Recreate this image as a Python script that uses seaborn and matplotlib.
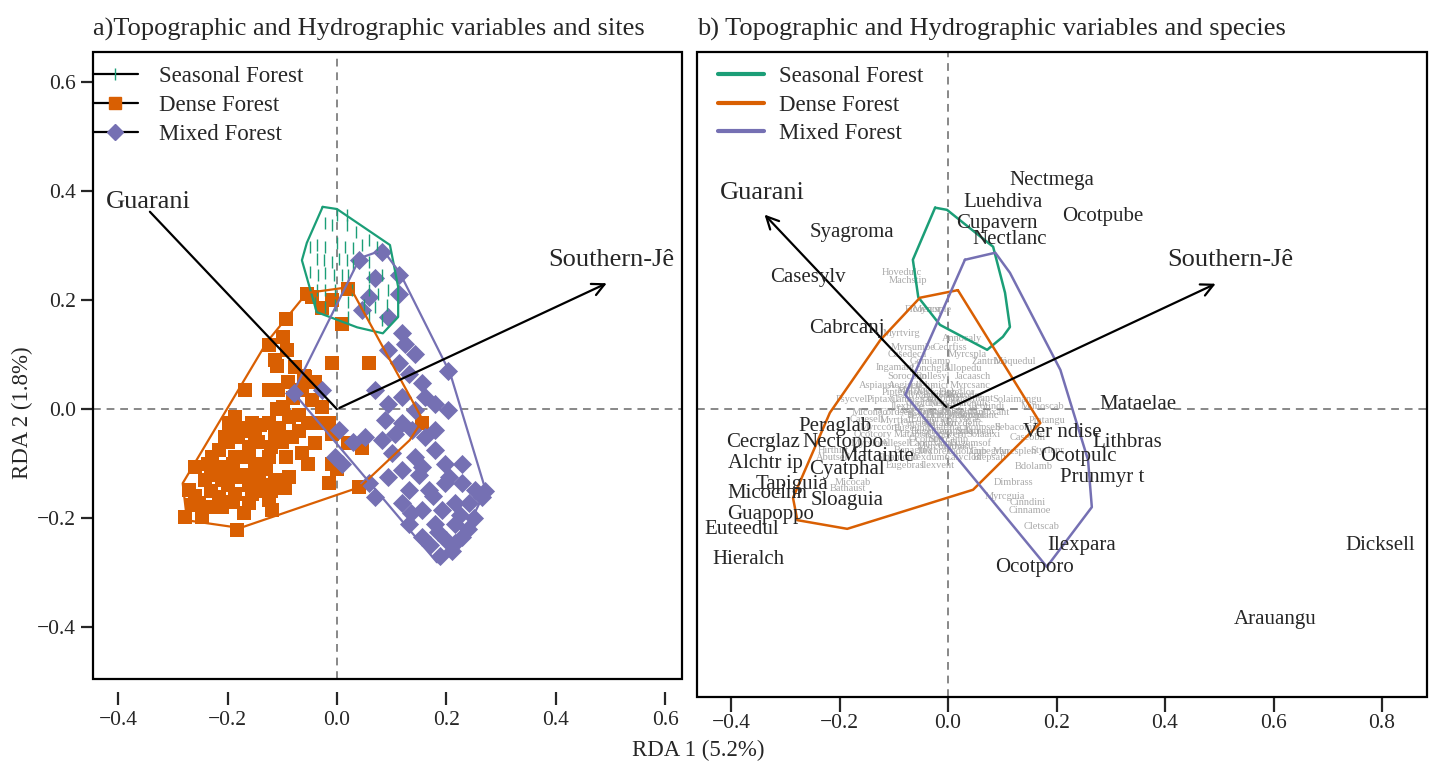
import numpy as np
import matplotlib
matplotlib.use("Agg")
import matplotlib.pyplot as plt
from matplotlib.lines import Line2D
from matplotlib.patches import Rectangle
import seaborn as sns

sns.set_style("white")
plt.rcParams['font.family'] = ['Liberation Serif', 'DejaVu Serif']
plt.rcParams['axes.unicode_minus'] = True

GREEN, ORANGE, PURPLE = '#1B9E77', '#D95F02', '#7570B3'
GROUPS = ['Seasonal Forest', 'Dense Forest', 'Mixed Forest']

# ---- site scores (panel a) ----
seasonal_x = [0.000, 0.018, -0.021, -0.009, 0.018, 0.034, -0.049, -0.037, -0.021, 0.000,
              0.015, 0.030, 0.046, 0.058, 0.073, -0.037, -0.024, -0.009, 0.003, 0.018,
              0.030, 0.058, -0.049, -0.034, -0.021, -0.006, 0.009, 0.021, 0.058, 0.082,
              -0.037, -0.021, -0.003, 0.027, 0.058, 0.076, 0.094, -0.040, -0.021, -0.003,
              0.021, 0.049, 0.070, 0.091, 0.021, 0.058, 0.082]
seasonal_y = [0.356, 0.356, 0.341, 0.338, 0.338, 0.325, 0.298, 0.301, 0.298, 0.304,
              0.298, 0.295, 0.301, 0.310, 0.298, 0.276, 0.273, 0.270, 0.276, 0.273,
              0.264, 0.270, 0.252, 0.246, 0.249, 0.246, 0.246, 0.246, 0.243, 0.246,
              0.218, 0.218, 0.218, 0.218, 0.218, 0.212, 0.218, 0.194, 0.188, 0.191,
              0.197, 0.191, 0.188, 0.191, 0.169, 0.169, 0.163]

dense_x = [-0.055, -0.046, 0.021, -0.027, -0.009, -0.094, 0.009, -0.098, -0.125, -0.091,
           -0.113, -0.076, -0.058, -0.040, -0.009, 0.058, -0.125, -0.107, -0.168, -0.064,
           -0.046, -0.027, -0.098, -0.088, -0.186, -0.198, -0.155, -0.125, -0.052, -0.027,
           -0.015, -0.009, 0.021, 0.046, -0.204, -0.180, -0.149, -0.113, -0.082, -0.040,
           -0.064, -0.229, -0.259, -0.210, -0.186, -0.161, -0.125, -0.094, -0.052, -0.009,
           -0.241, -0.210, -0.180, -0.143, -0.113, -0.088, -0.015, 0.040, -0.271, -0.253,
           -0.216, -0.186, -0.155, -0.125, -0.277, -0.247, -0.210, -0.161, -0.119, -0.183,
           0.155, -0.230, -0.190, -0.170, -0.150, -0.130, -0.200, -0.160, -0.140, -0.220,
           -0.190, -0.170, -0.230, -0.260, -0.200, -0.160, -0.120, -0.100, -0.070, -0.140,
           -0.110, -0.080, -0.060, -0.090, -0.110, -0.240, -0.265, -0.135, -0.175, 0.000,
           -0.215, -0.175, -0.145, -0.200, -0.120, -0.105, -0.070, -0.235, -0.155, -0.095]
dense_y = [0.212, 0.206, 0.221, 0.185, 0.200, 0.166, 0.157, 0.133, 0.117, 0.108,
           0.090, 0.078, 0.059, 0.050, 0.084, 0.084, 0.035, 0.035, 0.035, 0.035,
           0.017, 0.004, 0.004, -0.014, -0.014, -0.026, -0.026, -0.026, -0.026, -0.026,
           -0.026, -0.045, -0.063, -0.072, -0.051, -0.051, -0.051, -0.051, -0.051, -0.063,
           -0.081, -0.087, -0.106, -0.106, -0.087, -0.087, -0.087, -0.087, -0.100, -0.100,
           -0.130, -0.130, -0.124, -0.124, -0.130, -0.124, -0.136, -0.143, -0.149, -0.173,
           -0.161, -0.155, -0.155, -0.167, -0.198, -0.198, -0.179, -0.173, -0.185, -0.222,
           -0.026, -0.120, -0.100, -0.120, -0.100, -0.110, -0.140, -0.140, -0.150, -0.180,
           -0.170, -0.190, -0.150, -0.160, -0.060, -0.070, -0.070, -0.060, -0.040, -0.030,
           0.000, 0.020, 0.060, 0.050, 0.080, -0.180, -0.175, -0.140, -0.035, -0.110,
           -0.075, -0.040, -0.060, -0.115, -0.150, -0.035, -0.010, -0.100, -0.120, -0.145]

mixed_x = [0.040, 0.082, 0.113, 0.070, 0.058, 0.046, 0.094, 0.113, 0.119, 0.125,
           0.143, 0.094, 0.113, 0.131, 0.204, 0.070, 0.094, 0.119, 0.155, 0.161,
           0.143, 0.180, 0.204, 0.088, 0.119, 0.052, 0.082, 0.107, 0.137, 0.161,
           0.180, 0.003, -0.027, -0.079, -0.003, 0.009, 0.058, 0.070, 0.094, 0.119,
           0.143, 0.180, 0.155, 0.198, 0.229, 0.131, 0.168, 0.198, 0.229, 0.253,
           0.265, 0.119, 0.155, 0.192, 0.216, 0.241, 0.131, 0.180, 0.216, 0.155,
           0.216, 0.229, 0.188, 0.210, 0.250, 0.270, 0.240, 0.170, 0.200, 0.030,
           0.150, 0.175, 0.135, 0.100, 0.205, 0.225, 0.185]
mixed_y = [0.273, 0.289, 0.246, 0.240, 0.206, 0.182, 0.169, 0.212, 0.139, 0.120,
           0.102, 0.108, 0.084, 0.065, 0.069, 0.035, 0.010, 0.023, 0.047, 0.023,
           -0.002, 0.010, -0.002, -0.020, -0.026, -0.051, -0.057, -0.045, -0.039, -0.051,
           -0.039, -0.039, 0.035, 0.029, -0.087, -0.100, -0.136, -0.161, -0.124, -0.112,
           -0.087, -0.075, -0.106, -0.100, -0.100, -0.149, -0.149, -0.136, -0.136, -0.149,
           -0.161, -0.173, -0.185, -0.185, -0.173, -0.173, -0.210, -0.210, -0.210, -0.234,
           -0.246, -0.234, -0.270, -0.260, -0.200, -0.150, -0.220, -0.250, -0.240, -0.060,
           -0.120, -0.160, -0.190, -0.080, -0.125, -0.195, -0.225]

# convex hulls of site groups (panel a)
hullA_seasonal_x = [-0.026, 0.000, 0.097, 0.112, 0.112, 0.084, 0.037, -0.037, -0.064, -0.055]
hullA_seasonal_y = [0.371, 0.367, 0.301, 0.224, 0.169, 0.139, 0.150, 0.178, 0.273, 0.305]
hullA_dense_x = [0.024, 0.157, 0.133, 0.042, -0.177, -0.274, -0.282, -0.128, -0.055]
hullA_dense_y = [0.224, -0.020, -0.057, -0.143, -0.218, -0.204, -0.136, 0.123, 0.213]
hullA_mixed_x = [0.042, 0.084, 0.115, 0.207, 0.272, 0.225, 0.183, -0.080]
hullA_mixed_y = [0.277, 0.292, 0.250, 0.066, -0.149, -0.246, -0.281, 0.031]

# convex hulls (panel b)
hullB_seasonal_x = [-0.024, -0.002, 0.083, 0.105, 0.114, 0.101, 0.072, -0.015, -0.055, -0.065]
hullB_seasonal_y = [0.371, 0.367, 0.299, 0.214, 0.151, 0.133, 0.109, 0.155, 0.206, 0.275]
hullB_dense_x = [0.018, 0.170, 0.046, -0.186, -0.278, -0.286, -0.218, -0.125, -0.052]
hullB_dense_y = [0.219, -0.026, -0.149, -0.221, -0.205, -0.164, -0.007, 0.127, 0.205]
hullB_mixed_x = [0.031, 0.087, 0.114, 0.207, 0.258, 0.265, 0.182, -0.079]
hullB_mixed_y = [0.275, 0.288, 0.251, 0.072, -0.094, -0.181, -0.291, 0.026]

# explanatory variables (biplot arrows)
env_names = ['Guarani', 'Southern-Jê']
env_x = [-0.342, 0.498]
env_y = [0.362, 0.233]
envA_lab_x = [-0.345, 0.501]
envA_lab_y = [0.380, 0.273]
envB_lab_x = [-0.343, 0.520]
envB_lab_y = [0.398, 0.275]

# highlighted species (panel b)
sp_names = ['Nectmega', 'Luehdiva', 'Ocotpube', 'Cupavern', 'Nectlanc', 'Syagroma',
            'Casesylv', 'Cabrcanj', 'Mataelae', 'Peraglab', 'Cecrglaz', 'Nectoppo',
            'Ver ndise', 'Lithbras', 'Matainte', 'Alchtr ip', 'Ocotpulc', 'Cyatphal',
            'Prunmyr t', 'Tapiguia', 'Micocinn', 'Sloaguia', 'Guapoppo', 'Euteedul',
            'Ilexpara', 'Ocotporo', 'Hieralch', 'Dicksell', 'Arauangu']
sp_x = [0.192, 0.101, 0.286, 0.090, 0.114, -0.177, -0.258, -0.186, 0.350, -0.208,
        -0.341, -0.194, 0.210, 0.330, -0.131, -0.337, 0.240, -0.186, 0.284, -0.288,
        -0.334, -0.186, -0.328, -0.380, 0.247, 0.160, -0.369, 0.796, 0.603]
sp_y = [0.422, 0.380, 0.354, 0.341, 0.313, 0.326, 0.243, 0.149, 0.009, -0.033,
        -0.061, -0.061, -0.044, -0.061, -0.088, -0.100, -0.087, -0.112, -0.127, -0.140,
        -0.155, -0.168, -0.195, -0.223, -0.251, -0.293, -0.278, -0.251, -0.389]

# remaining species (small grey labels)
minor_names = ['Hovedulc', 'Machstip', 'Ficoenor', 'Myrcsple', 'Myrtvirg', 'Annocaly',
               'Myrsumbe', 'Cedrfiss', 'Casedeca', 'Myrcspla', 'Gomiamp', 'Zantrhoi',
               'Moquedul', 'Ingamarg', 'Lonchgla', 'Allopedu', 'Sorocbon', 'Rollesyl',
               'Jacaasch', 'Aspiaust', 'Aegisell', 'Luehmicr', 'Myrcsanc', 'Piptgono',
               'Myrcglab', 'Eugeflor', 'Psycvell', 'Piptaxil', 'Campguaz', 'Cedrodor',
               'Eugemant', 'Solaimangu', 'Mimoscab', 'Ocotindi', 'Ilexthee', 'Miconeo',
               'Cordsell', 'Citrmega', 'Casepara', 'Tampxant', 'Casesell', 'Myrtfall',
               'Eugeuruc', 'Strybras', 'Pintangu', 'Roupsell', 'Sebacomm', 'Myrccord',
               'Eugeunif', 'Guarmacr', 'Ocotcory', 'Matabras', 'Cupevern', 'Solaaixi',
               'Caseobli', 'Myrslore', 'Allesell', 'Campxant', 'Eugemsof', 'Banaguia',
               'Ilexbrev', 'Podolamb', 'Cupegran', 'Myrcsplen', 'Styrlepr', 'Ilexdumo',
               'Calyclon', 'Blepsali', 'Ilexvent', 'Bdolamb', 'Dimbrass', 'Myrcguia',
               'Cinndini', 'Cinnamoe', 'Cletscab', 'Micocab', 'Bathaust', 'Hirthirt',
               'Abutsell', 'Sloamono', 'Eugebras',
               'Myrcrost', 'Eugeinvo', 'Ocotodor', 'Ocotdiosp', 'Nectgran', 'Myrcpulc',
               'Eugepyri', 'Casegoss', 'Symptetr', 'Symplanc', 'Ilexmicr', 'Drimbras',
               'Weinpaul', 'Cupaobl', 'Matagui', 'Myrcdelic', 'Eugehiem', 'Campgua',
               'Solamaur', 'Ocotnutt', 'Styrcamp', 'Myrcoblo', 'Clethuru', 'Myrrloef']
minor_x = [-0.085, -0.074, -0.046, -0.029, -0.085, 0.026, -0.065, 0.004, -0.076, 0.035,
           -0.033, 0.077, 0.124, -0.098, -0.033, 0.028, -0.076, -0.028, 0.046, -0.131,
           -0.079, -0.033, 0.041, -0.088, -0.020, 0.017, -0.175, -0.120, -0.065, -0.015,
           0.046, 0.127, 0.175, 0.072, -0.076, -0.144, -0.094, -0.033, 0.022, 0.077,
           -0.149, -0.094, -0.033, 0.028, 0.182, 0.065, 0.127, -0.125, -0.065, -0.002,
           -0.138, -0.065, -0.002, 0.065, 0.146, -0.144, -0.094, -0.033, 0.041, -0.065,
           -0.024, 0.035, 0.077, 0.124, 0.182, -0.033, 0.028, 0.077, -0.020, 0.157,
           0.120, 0.105, 0.146, 0.151, 0.173, -0.175, -0.184, -0.212, -0.212, -0.094,
           -0.079,
           -0.050, -0.010, 0.030, -0.040, 0.000, 0.040, -0.060, -0.020, 0.020, 0.055,
           -0.045, -0.005, 0.035, -0.055, -0.015, 0.025, -0.030, 0.010, 0.050, -0.040,
           0.000, -0.020, 0.015, -0.060]
minor_y = [0.251, 0.236, 0.184, 0.184, 0.140, 0.129, 0.114, 0.114, 0.100, 0.100,
           0.087, 0.087, 0.087, 0.076, 0.074, 0.074, 0.059, 0.059, 0.059, 0.044,
           0.044, 0.044, 0.044, 0.031, 0.031, 0.031, 0.017, 0.018, 0.018, 0.020,
           0.020, 0.018, 0.004, 0.004, 0.004, -0.007, -0.007, -0.007, -0.007, -0.007,
           -0.020, -0.020, -0.020, -0.020, -0.022, -0.035, -0.035, -0.035, -0.035, -0.035,
           -0.048, -0.048, -0.048, -0.048, -0.052, -0.063, -0.063, -0.063, -0.063, -0.076,
           -0.079, -0.079, -0.079, -0.079, -0.076, -0.090, -0.090, -0.090, -0.105, -0.107,
           -0.135, -0.162, -0.173, -0.188, -0.216, -0.135, -0.146, -0.077, -0.090, -0.090,
           -0.105,
           0.025, 0.025, 0.025, 0.010, 0.010, 0.010, -0.002, -0.002, -0.002, -0.012,
           -0.013, -0.013, -0.013, -0.027, -0.027, -0.027, -0.042, -0.042, -0.042, -0.056,
           -0.056, -0.070, -0.070, 0.035]

fig = plt.figure(figsize=(14.32, 7.66), dpi=100)
W, H = 1432, 766
axA = fig.add_axes([93 / W, 1 - 679 / H, 589 / W, 627 / H])
axB = fig.add_axes([697 / W, 1 - 697 / H, 730 / W, 645 / H])


def closed(v):
    return list(v) + [v[0]]


def frame(ax):
    for s in ax.spines.values():
        s.set_visible(False)
    ax.add_patch(Rectangle((0, 0), 1, 1, transform=ax.transAxes, fill=False,
                           lw=1.6, edgecolor='black', clip_on=False, zorder=10))


# ---------------- panel a ----------------
ax = axA
ax.axhline(0, color='#888888', ls=(0, (4, 3)), lw=1.4, zorder=0)
ax.axvline(0, color='#888888', ls=(0, (4, 3)), lw=1.4, zorder=0)
sns.scatterplot(x=dense_x, y=dense_y, marker='s', color=ORANGE, s=95,
                linewidth=0, ax=ax, zorder=3)
sns.scatterplot(x=mixed_x, y=mixed_y, marker='D', color=PURPLE, s=95,
                linewidth=0, ax=ax, zorder=3)
sns.scatterplot(x=seasonal_x, y=seasonal_y, marker='|', color=GREEN, s=80,
                linewidth=1.0, ax=ax, zorder=4)
for hx, hy, c in [(hullA_seasonal_x, hullA_seasonal_y, GREEN),
                  (hullA_dense_x, hullA_dense_y, ORANGE),
                  (hullA_mixed_x, hullA_mixed_y, PURPLE)]:
    ax.plot(closed(hx), closed(hy), color=c, lw=1.6, zorder=5)
ax.plot([0, env_x[0]], [0, env_y[0]], color='black', lw=1.6, zorder=6)
ax.annotate('', xy=(env_x[1], env_y[1]), xytext=(0, 0),
            arrowprops=dict(arrowstyle='->', lw=1.6, color='black', mutation_scale=22),
            zorder=6)
for name, lx, ly in zip(env_names, envA_lab_x, envA_lab_y):
    ax.text(lx, ly, name, ha='center', va='center', fontsize=19, zorder=7)
ax.set_xlim(-0.446, 0.631)
ax.set_ylim(-0.495, 0.655)
ax.set_xticks([-0.4, -0.2, 0.0, 0.2, 0.4, 0.6])
ax.set_yticks([-0.4, -0.2, 0.0, 0.2, 0.4, 0.6])
frame(ax)
ax.spines['bottom'].set_position(('outward', 9))
ax.tick_params(axis='x', bottom=True, direction='out', length=9, width=1.6,
               labelsize=15.5, pad=5)
ax.tick_params(axis='y', left=True, direction='out', length=9, width=1.6,
               labelsize=15.5, pad=3)
ax.set_xlabel('')
ax.set_ylabel('')
ax.set_title('a)Topographic and Hydrographic variables and sites', loc='left',
             fontsize=19, pad=12)
handlesA = [Line2D([0], [0], color='black', lw=1.6, marker='|', markersize=9,
                   markeredgecolor=GREEN, markeredgewidth=1.0),
            Line2D([0], [0], color='black', lw=1.6, marker='s', markersize=8,
                   markerfacecolor=ORANGE, markeredgecolor=ORANGE),
            Line2D([0], [0], color='black', lw=1.6, marker='D', markersize=8,
                   markerfacecolor=PURPLE, markeredgecolor=PURPLE)]
ax.legend(handlesA, GROUPS, loc='upper left', bbox_to_anchor=(0.0, 0.977),
          frameon=False, fontsize=16.5, handlelength=1.95, handletextpad=0.95,
          borderpad=0, borderaxespad=0, labelspacing=0.33, numpoints=1)

# ---------------- panel b ----------------
ax = axB
ax.axhline(0, color='#888888', ls=(0, (4, 3)), lw=1.4, zorder=0)
ax.axvline(0, color='#888888', ls=(0, (4, 3)), lw=1.4, zorder=0)
for name, mx, my in zip(minor_names, minor_x, minor_y):
    ax.text(mx, my, name, ha='center', va='center', fontsize=7.5,
            color='#a9a9a9', zorder=2)
for hx, hy, c in [(hullB_seasonal_x, hullB_seasonal_y, GREEN),
                  (hullB_dense_x, hullB_dense_y, ORANGE),
                  (hullB_mixed_x, hullB_mixed_y, PURPLE)]:
    sns.lineplot(x=closed(hx), y=closed(hy), sort=False, estimator=None,
                 color=c, lw=1.8, ax=ax, zorder=4)
for ex, ey in zip(env_x, env_y):
    ax.annotate('', xy=(ex, ey), xytext=(0, 0),
                arrowprops=dict(arrowstyle='->', lw=1.6, color='black', mutation_scale=22),
                zorder=6)
for name, lx, ly in zip(env_names, envB_lab_x, envB_lab_y):
    ax.text(lx, ly, name, ha='center', va='center', fontsize=19, zorder=7)
for name, sx, sy in zip(sp_names, sp_x, sp_y):
    ax.text(sx, sy, name, ha='center', va='center', fontsize=15, zorder=7)
ax.set_xlim(-0.463, 0.883)
ax.set_ylim(-0.531, 0.658)
ax.set_xticks([-0.4, -0.2, 0.0, 0.2, 0.4, 0.6, 0.8])
ax.set_yticks([])
frame(ax)
ax.tick_params(axis='x', bottom=True, direction='out', length=11, width=1.6,
               labelsize=15.5, pad=1)
ax.set_xlabel('')
ax.set_ylabel('')
ax.set_title('b) Topographic and Hydrographic variables and species', loc='left',
             fontsize=19, pad=12)
handlesB = [Line2D([0], [0], color=c, lw=3) for c in (GREEN, ORANGE, PURPLE)]
ax.legend(handlesB, GROUPS, loc='upper left', bbox_to_anchor=(0.029, 0.978),
          frameon=False, fontsize=16.5, handlelength=2.0, handletextpad=0.65,
          borderpad=0, borderaxespad=0, labelspacing=0.33)

fig.text(698 / W, 1 - 750 / H, 'RDA 1 (5.2%)', ha='center', va='center', fontsize=16.5)
fig.text(22 / W, 1 - 413 / H, 'RDA 2 (1.8%)', ha='center', va='center',
         rotation=90, fontsize=16.5)

fig.savefig('out.png', dpi=100)
